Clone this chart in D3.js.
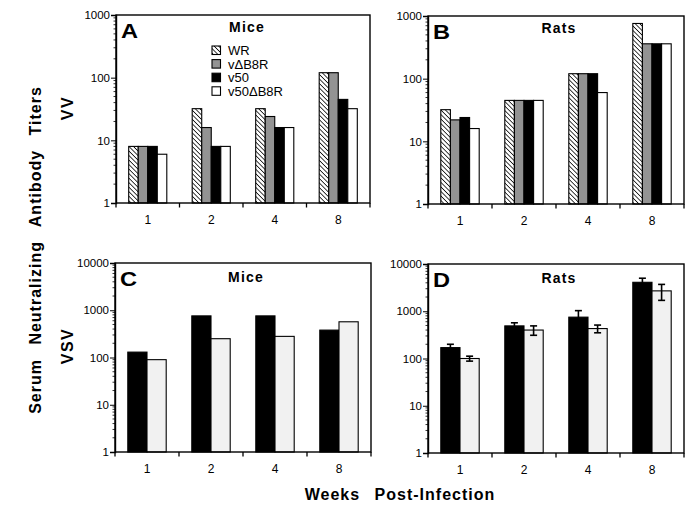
<!DOCTYPE html>
<html><head><meta charset="utf-8">
<script src="https://cdn.jsdelivr.net/npm/d3@7"></script>
<style>body{margin:0;background:#fff}svg{display:block;font-family:"Liberation Sans",Arial,sans-serif}</style>
</head><body>
<svg id="c" width="692" height="508"></svg>
<script>
const weeks = ["1","2","4","8"];
const vvSeries = ["WR","v\u0394B8R","v50","v50\u0394B8R"];
// VV panel A (Mice)
const miceWR = [8,32,32,120];
const miceVdB8R = [8,16,24,120];
const miceV50 = [8,8,16,45];
const miceV50dB8R = [6,8,16,32];
// VV panel B (Rats)
const ratsWR = [32,45,120,760];
const ratsVdB8R = [22,45,120,360];
const ratsV50 = [24,45,120,360];
const ratsV50dB8R = [16,45,60,360];
// VSV panel C (Mice)
const vsvMiceV50 = [130,760,760,380];
const vsvMiceV50dB8R = [90,250,280,570];
// VSV panel D (Rats) with error
const vsvRatsV50 = [170,490,750,4100];
const vsvRatsV50Err = [30,80,280,900];
const vsvRatsV50dB8R = [100,400,430,2700];
const vsvRatsV50dB8RErr = [12,90,80,1000];
const vvTicks = [1,10,100,1000];
const vsvTicks = [1,10,100,1000,10000];

const svg = d3.select("#c");
const defs = svg.append("defs");
const hp = defs.append("pattern").attr("id","hatch").attr("patternUnits","userSpaceOnUse")
  .attr("width",3.2).attr("height",3.2).attr("patternTransform","rotate(-45)");
hp.append("rect").attr("width",3.2).attr("height",3.2).attr("fill","#fff");
hp.append("line").attr("x1",0).attr("y1",0).attr("x2",0).attr("y2",3.2).attr("stroke","#000").attr("stroke-width",1.5);

const fills = {"WR":"url(#hatch)","v\u0394B8R":"#939393","v50":"#000","v50\u0394B8R":"#fff"};
const vsvFill = {"v50":"#000","v50\u0394B8R":"#f1f1f1"};

function panel(cfg){
  const g = svg.append("g");
  const x = d3.scaleBand().domain(weeks).range([cfg.x0,cfg.x1]).paddingInner(0.4).paddingOuter(0.2);
  const y = d3.scaleLog().domain(cfg.domain).range([cfg.y1,cfg.y0]);
  const inner = d3.scaleBand().domain(cfg.series.map(s=>s.name)).range([0,x.bandwidth()]);
  cfg.series.forEach(s=>{
    g.selectAll(null).data(s.values).join("rect")
      .attr("x",(d,i)=>x(weeks[i])+inner(s.name))
      .attr("y",d=>y(d))
      .attr("width",inner.bandwidth())
      .attr("height",d=>cfg.y1-y(d))
      .attr("fill",s.fill).attr("stroke","#000").attr("stroke-width",1.1);
    if(s.err){
      s.values.forEach((d,i)=>{
        const cx = x(weeks[i])+inner(s.name)+inner.bandwidth()/2;
        const hi=y(d+s.err[i]), lo=y(d-s.err[i]);
        const eg=g.append("g").attr("stroke","#000").attr("stroke-width",1.6);
        eg.append("line").attr("x1",cx).attr("x2",cx).attr("y1",hi).attr("y2",lo);
        eg.append("line").attr("x1",cx-3.5).attr("x2",cx+3.5).attr("y1",hi).attr("y2",hi);
        eg.append("line").attr("x1",cx-3.5).attr("x2",cx+3.5).attr("y1",lo).attr("y2",lo);
      });
    }
  });
  g.append("rect").attr("x",cfg.x0).attr("y",cfg.y0).attr("width",cfg.x1-cfg.x0).attr("height",cfg.y1-cfg.y0)
    .attr("fill","none").attr("stroke","#000").attr("stroke-width",1.4);
  const ya = d3.axisLeft(y).tickValues(cfg.ticks).tickFormat(d3.format("d")).tickSize(5).tickPadding(1);
  const yg = g.append("g").attr("transform",`translate(${cfg.x0},0)`).call(ya);
  yg.select(".domain").attr("stroke-width",1.4);
  yg.selectAll("text").attr("font-size",11.5).attr("font-family","Liberation Sans, Arial, sans-serif");
  const minor=[];
  for(let dec=cfg.domain[0]; dec<cfg.domain[1]; dec*=10) for(let k=2;k<10;k++) minor.push(dec*k);
  g.selectAll(null).data(minor).join("line").attr("x1",cfg.x0-2.5).attr("x2",cfg.x0)
    .attr("y1",d=>y(d)).attr("y2",d=>y(d)).attr("stroke","#000").attr("stroke-width",0.8);
  const step = x.step();
  const bounds = d3.range(5).map(i=>cfg.x0 + i*step);
  g.selectAll(null).data(bounds).join("line").attr("x1",d=>d).attr("x2",d=>d)
    .attr("y1",cfg.y1).attr("y2",cfg.y1+4.5).attr("stroke","#000").attr("stroke-width",1.3);
  g.selectAll(null).data(weeks).join("text").attr("x",d=>x(d)+x.bandwidth()/2).attr("y",cfg.y1+21)
    .attr("text-anchor","middle").attr("font-size",12).text(d=>d);
  g.append("text").attr("transform",`translate(${cfg.x0+5},${cfg.y0+23}) scale(1.18,1)`)
    .attr("font-size",20).attr("font-weight","bold").text(cfg.letter);
  g.append("text").attr("x",cfg.x0+131).attr("y",cfg.y0+(cfg.tOff||17)).attr("text-anchor","middle")
    .attr("font-size",14).attr("font-weight","bold").attr("letter-spacing",1.2).text(cfg.title);
  return {x,y};
}

panel({x0:116,x1:370,y0:15,y1:203,domain:[1,1000],ticks:vvTicks,letter:"A",title:"Mice",
  series:[{name:vvSeries[0],values:miceWR,fill:fills[vvSeries[0]]},{name:vvSeries[1],values:miceVdB8R,fill:fills[vvSeries[1]]},
          {name:vvSeries[2],values:miceV50,fill:fills[vvSeries[2]]},{name:vvSeries[3],values:miceV50dB8R,fill:fills[vvSeries[3]]}]});
panel({x0:428,x1:684,y0:16,y1:204,domain:[1,1000],ticks:vvTicks,letter:"B",title:"Rats",
  series:[{name:vvSeries[0],values:ratsWR,fill:fills[vvSeries[0]]},{name:vvSeries[1],values:ratsVdB8R,fill:fills[vvSeries[1]]},
          {name:vvSeries[2],values:ratsV50,fill:fills[vvSeries[2]]},{name:vvSeries[3],values:ratsV50dB8R,fill:fills[vvSeries[3]]}]});
panel({x0:115,x1:371,y0:263,y1:452,domain:[1,10000],ticks:vsvTicks,letter:"C",title:"Mice",tOff:19,
  series:[{name:"v50",values:vsvMiceV50,fill:vsvFill["v50"]},{name:"v50\u0394B8R",values:vsvMiceV50dB8R,fill:vsvFill["v50\u0394B8R"]}]});
panel({x0:428,x1:684,y0:264,y1:453,domain:[1,10000],ticks:vsvTicks,letter:"D",title:"Rats",tOff:19,
  series:[{name:"v50",values:vsvRatsV50,fill:vsvFill["v50"],err:vsvRatsV50Err},{name:"v50\u0394B8R",values:vsvRatsV50dB8R,fill:vsvFill["v50\u0394B8R"],err:vsvRatsV50dB8RErr}]});

const lg = svg.append("g");
vvSeries.forEach((s,i)=>{
  const yy = 46 + i*13.6;
  lg.append("rect").attr("x",212).attr("y",yy).attr("width",8.5).attr("height",8.5)
    .attr("fill",fills[s]).attr("stroke","#000").attr("stroke-width",1.1);
  lg.append("text").attr("x",228).attr("y",yy+9).attr("font-size",13).text(s);
});

svg.append("text").attr("transform","translate(41,250) rotate(-90)").attr("text-anchor","middle")
  .attr("font-size",16).attr("font-weight","bold").attr("letter-spacing",1).attr("word-spacing",9)
  .text("Serum Neutralizing Antibody Titers");
svg.append("text").attr("transform","translate(73,108) rotate(-90)").attr("text-anchor","middle")
  .attr("font-size",16).attr("font-weight","bold").attr("letter-spacing",1.5).text("VV");
svg.append("text").attr("transform","translate(73,346) rotate(-90)").attr("text-anchor","middle")
  .attr("font-size",16).attr("font-weight","bold").attr("letter-spacing",1.5).text("VSV");
svg.append("text").attr("x",400).attr("y",500).attr("text-anchor","middle")
  .attr("font-size",16).attr("font-weight","bold").attr("letter-spacing",1).attr("word-spacing",9)
  .text("Weeks Post-Infection");
</script>
</body></html>
